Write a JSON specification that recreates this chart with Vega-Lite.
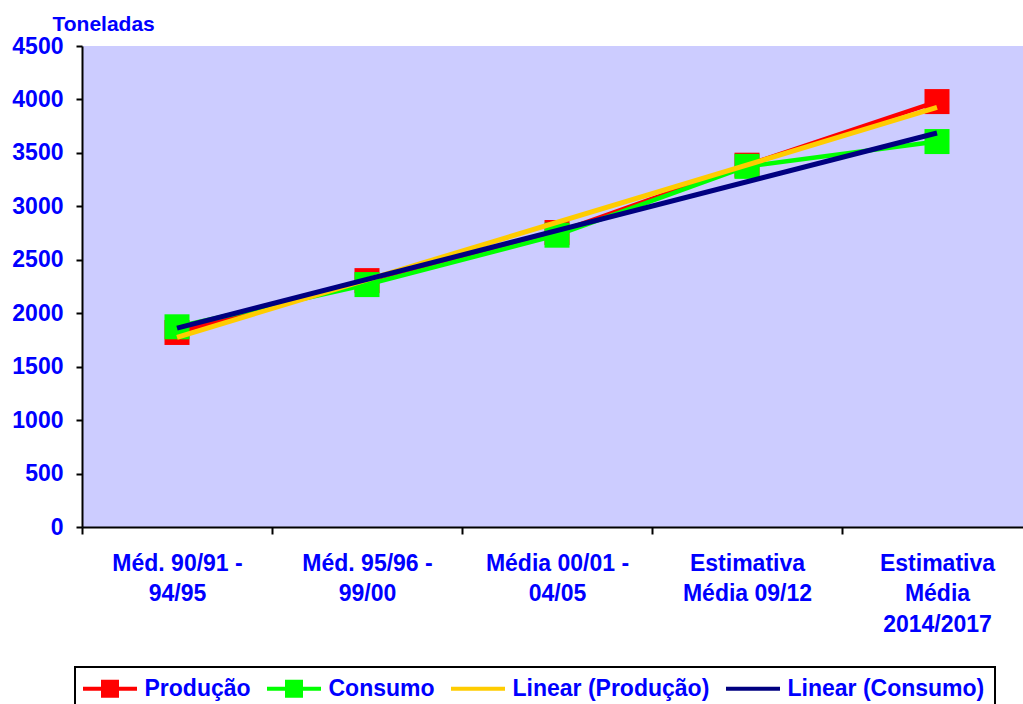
{
  "$schema": "https://vega.github.io/schema/vega-lite/v6.json",
  "autosize": "none",
  "padding": {"left": 82, "top": 46, "right": 0, "bottom": 177},
  "width": 941,
  "height": 481,
  "background": "white",
  "config": {
    "view": {"fill": "#CCCCFF", "stroke": null},
    "font": "Liberation Sans"
  },
  "data": {
    "values": [
      {"periodo": "Méd. 90/91 -|94/95", "serie": "Produção", "valor": 1820},
      {"periodo": "Méd. 95/96 -|99/00", "serie": "Produção", "valor": 2305},
      {"periodo": "Média 00/01 -|04/05", "serie": "Produção", "valor": 2755},
      {"periodo": "Estimativa|Média 09/12", "serie": "Produção", "valor": 3385},
      {"periodo": "Estimativa|Média|2014/2017", "serie": "Produção", "valor": 3980},
      {"periodo": "Méd. 90/91 -|94/95", "serie": "Consumo", "valor": 1873},
      {"periodo": "Méd. 95/96 -|99/00", "serie": "Consumo", "valor": 2268},
      {"periodo": "Média 00/01 -|04/05", "serie": "Consumo", "valor": 2730},
      {"periodo": "Estimativa|Média 09/12", "serie": "Consumo", "valor": 3374},
      {"periodo": "Estimativa|Média|2014/2017", "serie": "Consumo", "valor": 3606},
      {"periodo": "Méd. 90/91 -|94/95", "serie": "Linear (Produção)", "valor": 1775},
      {"periodo": "Estimativa|Média|2014/2017", "serie": "Linear (Produção)", "valor": 3925},
      {"periodo": "Méd. 90/91 -|94/95", "serie": "Linear (Consumo)", "valor": 1860},
      {"periodo": "Estimativa|Média|2014/2017", "serie": "Linear (Consumo)", "valor": 3686}
    ]
  },
  "encoding": {
    "x": {
      "field": "periodo",
      "type": "ordinal",
      "sort": ["Méd. 90/91 -|94/95", "Méd. 95/96 -|99/00", "Média 00/01 -|04/05", "Estimativa|Média 09/12", "Estimativa|Média|2014/2017"],
      "scale": {"type": "band", "paddingInner": 0, "paddingOuter": 0, "range": [0, 950]},
      "axis": {
        "title": null,
        "labelAngle": 0,
        "labelExpr": "split(datum.label, '|')",
        "labelFont": "Liberation Sans",
        "labelFontSize": 23,
        "labelFontWeight": "bold",
        "labelColor": "#0000FF",
        "labelBaseline": "top",
        "labelLineHeight": 30.5,
        "labelPadding": 18,
        "labelOverlap": false,
        "labelLimit": 400,
        "tickBand": "extent",
        "tickSize": 7,
        "tickColor": "black",
        "tickWidth": 2,
        "domainColor": "black",
        "domainWidth": 2,
        "grid": false
      }
    },
    "y": {
      "field": "valor",
      "type": "quantitative",
      "scale": {"domain": [0, 4500], "nice": false},
      "axis": {
        "title": "Toneladas",
        "titleAngle": 0,
        "titleAlign": "left",
        "titleBaseline": "alphabetic",
        "titleX": -30,
        "titleY": -16,
        "titleFont": "Liberation Sans",
        "titleFontSize": 21,
        "titleFontWeight": "bold",
        "titleColor": "#0000FF",
        "values": [0, 500, 1000, 1500, 2000, 2500, 3000, 3500, 4000, 4500],
        "format": "d",
        "labelFont": "Liberation Sans",
        "labelFontSize": 23,
        "labelFontWeight": "bold",
        "labelColor": "#0000FF",
        "labelPadding": 13,
        "tickSize": 6,
        "tickColor": "black",
        "tickWidth": 2,
        "domainColor": "black",
        "domainWidth": 2,
        "grid": false
      }
    },
    "color": {
      "field": "serie",
      "type": "nominal",
      "scale": {
        "domain": ["Produção", "Consumo", "Linear (Produção)", "Linear (Consumo)"],
        "range": ["#FF0000", "#00FF00", "#FFCC00", "#000080"]
      },
      "legend": {
        "title": null,
        "orient": "none",
        "direction": "horizontal",
        "legendX": -7,
        "legendY": 621,
        "padding": 10,
        "columnPadding": 16,
        "symbolSize": 324,
        "symbolOffset": 13.5,
        "labelOffset": 23,
        "labelLimit": 400,
        "labelFont": "Liberation Sans",
        "labelFontSize": 23,
        "labelFontWeight": "bold",
        "labelColor": "#0000FF",
        "strokeColor": "black",
        "fillColor": "white",
        "encode": {
          "legend": {"update": {"strokeWidth": {"value": 2}}},
          "symbols": {
            "update": {
              "shape": {"signal": "datum.value == 'Produção' || datum.value == 'Consumo' ? 'M-3,-0.22H3V0.22H-3Z M-1,-1H1V1H-1Z' : 'M-3,-0.22H3V0.22H-3Z'"},
              "fill": {"signal": "scale('color', datum.value)"},
              "fillOpacity": {"value": 1},
              "opacity": {"value": 1},
              "strokeWidth": {"value": 0}
            }
          }
        }
      }
    }
  },
  "layer": [
    {
      "transform": [{"filter": "datum.serie == 'Produção'"}],
      "mark": {"type": "line", "strokeWidth": 4.5}
    },
    {
      "transform": [{"filter": "datum.serie == 'Produção'"}],
      "mark": {"type": "point", "shape": "square", "filled": true, "size": 625, "opacity": 1, "strokeWidth": 0}
    },
    {
      "transform": [{"filter": "datum.serie == 'Consumo'"}],
      "mark": {"type": "line", "strokeWidth": 4.5}
    },
    {
      "transform": [{"filter": "datum.serie == 'Consumo'"}],
      "mark": {"type": "point", "shape": "square", "filled": true, "size": 625, "opacity": 1, "strokeWidth": 0}
    },
    {
      "transform": [{"filter": "datum.serie == 'Linear (Produção)'"}],
      "mark": {"type": "line", "strokeWidth": 5}
    },
    {
      "transform": [{"filter": "datum.serie == 'Linear (Consumo)'"}],
      "mark": {"type": "line", "strokeWidth": 5}
    }
  ]
}
